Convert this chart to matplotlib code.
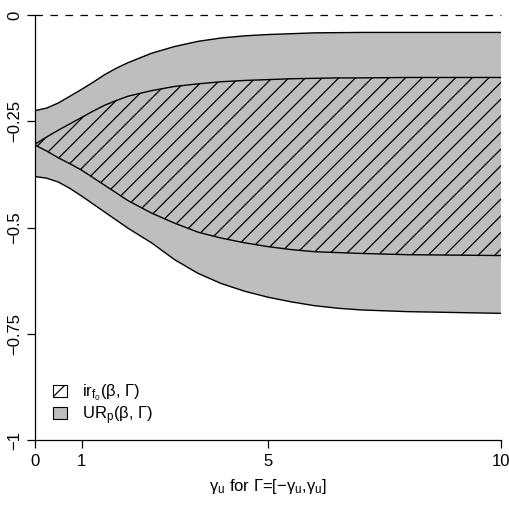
import matplotlib
matplotlib.use('Agg')
import matplotlib.pyplot as plt
from matplotlib.patches import Patch
import numpy as np

plt.rcParams['font.family'] = ['Liberation Sans', 'DejaVu Sans']
plt.rcParams['mathtext.fontset'] = 'custom'
plt.rcParams['mathtext.rm'] = 'Liberation Sans'
plt.rcParams['mathtext.it'] = 'Liberation Sans:italic'
plt.rcParams['hatch.linewidth'] = 0.9

# gamma_u grid
gam = [0, 0.25, 0.5, 0.75, 1, 1.25, 1.5, 1.75, 2, 2.5, 3, 3.5, 4, 4.5, 5, 5.5,
       6, 6.5, 7, 8, 9, 10]

# UR_p band (outer, grey)
ur_hi = [-0.225, -0.219, -0.207, -0.191, -0.175, -0.158, -0.140, -0.125, -0.112,
         -0.090, -0.074, -0.062, -0.054, -0.049, -0.046, -0.044, -0.042, -0.0415,
         -0.041, -0.041, -0.041, -0.041]
ur_lo = [-0.380, -0.384, -0.393, -0.408, -0.426, -0.445, -0.464, -0.483, -0.502,
         -0.536, -0.576, -0.608, -0.632, -0.650, -0.664, -0.675, -0.684, -0.690,
         -0.694, -0.698, -0.700, -0.702]

# ir_f0 band (inner, hatched)
ir_hi = [-0.304, -0.287, -0.271, -0.256, -0.241, -0.226, -0.212, -0.201, -0.191,
         -0.178, -0.168, -0.162, -0.157, -0.154, -0.152, -0.150, -0.149, -0.148,
         -0.148, -0.147, -0.147, -0.147]
ir_lo = [-0.306, -0.320, -0.336, -0.350, -0.365, -0.383, -0.401, -0.419, -0.437,
         -0.466, -0.490, -0.511, -0.525, -0.536, -0.545, -0.552, -0.557, -0.559,
         -0.561, -0.564, -0.565, -0.566]

yticks = [0, -0.25, -0.5, -0.75, -1]
ylabels = ['0', '\u22120.25', '\u22120.5', '\u22120.75', '\u22121']
xticks = [0, 1, 5, 10]

grey = '#bebebe'

fig = plt.figure(figsize=(5.09, 5.23), dpi=100)
ax = fig.add_axes([35/509, 1-440/523, 466/509, 425/523])

ax.fill_between(gam, ur_lo, ur_hi, facecolor=grey, edgecolor='none', lw=0)
ax.plot(gam, ur_hi, 'k-', lw=1)
ax.plot(gam, ur_lo, 'k-', lw=1)
ax.fill_between(gam, ir_lo, ir_hi, facecolor='none', edgecolor='k', hatch='//', lw=0)
ax.plot(gam, ir_hi, 'k-', lw=1)
ax.plot(gam, ir_lo, 'k-', lw=1)

ax.axhline(0, color='k', lw=0.9, ls=(0, (6, 6)), clip_on=False)

ax.set_xlim(0, 10)
ax.set_ylim(-1, 0)
ax.spines['top'].set_visible(False)
ax.spines['right'].set_visible(False)
ax.set_xticks(xticks)
ax.set_xticklabels([str(t) for t in xticks])
ax.set_yticks(yticks)
ax.set_yticklabels(ylabels, rotation=90, va='center')
ax.tick_params(labelsize=12, length=6, width=0.9, pad=4)
ax.tick_params(axis='y', pad=3)
for s in ax.spines.values():
    s.set_linewidth(0.9)

ax.set_xlabel('\u03b3$_\\mathrm{u}$ for \u0393=[\u2212\u03b3$_\\mathrm{u}$,\u03b3$_\\mathrm{u}$]',
              fontsize=12, labelpad=6)

handles = [Patch(facecolor='white', edgecolor='k', hatch='//', lw=0.8),
           Patch(facecolor=grey, edgecolor='k', lw=0.8)]
labels = ['ir$_{\\mathrm{f}_0}$(\u03b2, \u0393)', 'UR$_\\mathrm{p}$(\u03b2, \u0393)']
ax.legend(handles, labels, loc='lower left', bbox_to_anchor=(0.01, 0.0),
          frameon=False, fontsize=12, handlelength=0.84, handleheight=0.72,
          handletextpad=0.9, labelspacing=0.05, borderpad=0.3)

fig.savefig('out.png', dpi=100)
